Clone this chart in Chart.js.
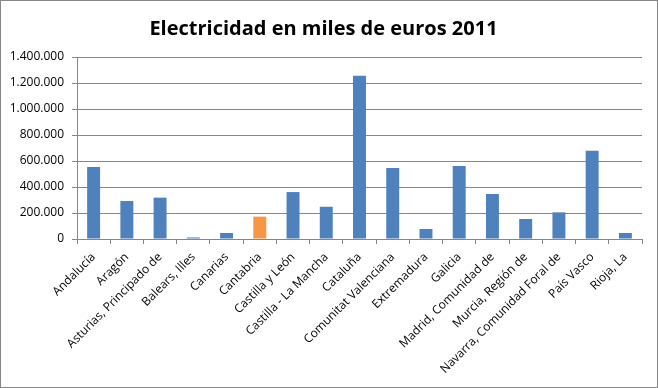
<!DOCTYPE html>
<html>
<head>
<meta charset="utf-8">
<script src="https://cdn.jsdelivr.net/npm/chart.js@4"></script>
<style>
  html, body { margin: 0; padding: 0; background: #fff; }
  .frame { width: 656px; height: 386px; border: 1px solid #868686; position: relative; }
  canvas { display: block; }
</style>
</head>
<body>
<div class="frame">
  <canvas id="chart" width="656" height="386"></canvas>
</div>
<script>
// Data
const regions = [
  'Andalucía', 'Aragón', 'Asturias, Principado de', 'Balears, Illes', 'Canarias',
  'Cantabria', 'Castilla y León', 'Castilla - La Mancha', 'Cataluña',
  'Comunitat Valenciana', 'Extremadura', 'Galicia', 'Madrid, Comunidad de',
  'Murcia, Región de', 'Navarra, Comunidad Foral de', 'País Vasco', 'Rioja, La'
];
const electricidad = [
  554000, 292000, 318000, 12000, 46000,
  172000, 361000, 248000, 1256000,
  546000, 77000, 562000, 346000,
  154000, 205000, 679000, 46000
];
const highlighted = 'Cantabria';
const yTicks = [0, 200000, 400000, 600000, 800000, 1000000, 1200000, 1400000];

const blue = '#4F81BD';
const orange = '#F79646';
const gridGrey = '#868686';

function fmt(v) {
  return String(v).replace(/\B(?=(\d{3})+(?!\d))/g, '.');
}

const barColors = regions.map(r => r === highlighted ? orange : blue);

const ctx = document.getElementById('chart').getContext('2d');
new Chart(ctx, {
  type: 'bar',
  data: {
    labels: regions,
    datasets: [{
      label: 'Electricidad',
      data: electricidad,
      backgroundColor: barColors,
      borderWidth: 0,
      barPercentage: 0.39,
      categoryPercentage: 1
    }]
  },
  options: {
    responsive: false,
    animation: false,
    layout: { padding: { left: 4, right: 15, top: 4, bottom: 8 } },
    plugins: {
      legend: { display: false },
      tooltip: { enabled: false },
      title: {
        display: true,
        text: 'Electricidad en miles de euros 2011',
        color: '#000',
        font: { family: "'Open Sans', sans-serif", size: 20, weight: 'bold' },
        padding: { top: 12, bottom: 16 }
      }
    },
    scales: {
      y: {
        min: 0,
        max: 1400000,
        afterBuildTicks: axis => { axis.ticks = yTicks.map(v => ({ value: v })); },
        afterFit: axis => { axis.width = 72; },
        ticks: {
          color: '#000',
          font: { family: "'Open Sans', sans-serif", size: 12 },
          padding: 8,
          callback: v => fmt(v)
        },
        grid: { color: gridGrey, lineWidth: 1, tickLength: 5 },
        border: { color: gridGrey }
      },
      x: {
        afterFit: axis => { axis.height = 140; },
        ticks: {
          color: '#000',
          font: { family: "'Open Sans', sans-serif", size: 12 },
          minRotation: 45,
          maxRotation: 45,
          autoSkip: false,
          padding: 6
        },
        grid: { offset: true, drawOnChartArea: false, color: gridGrey, tickLength: 5 },
        border: { color: gridGrey }
      }
    }
  }
});
</script>
</body>
</html>
